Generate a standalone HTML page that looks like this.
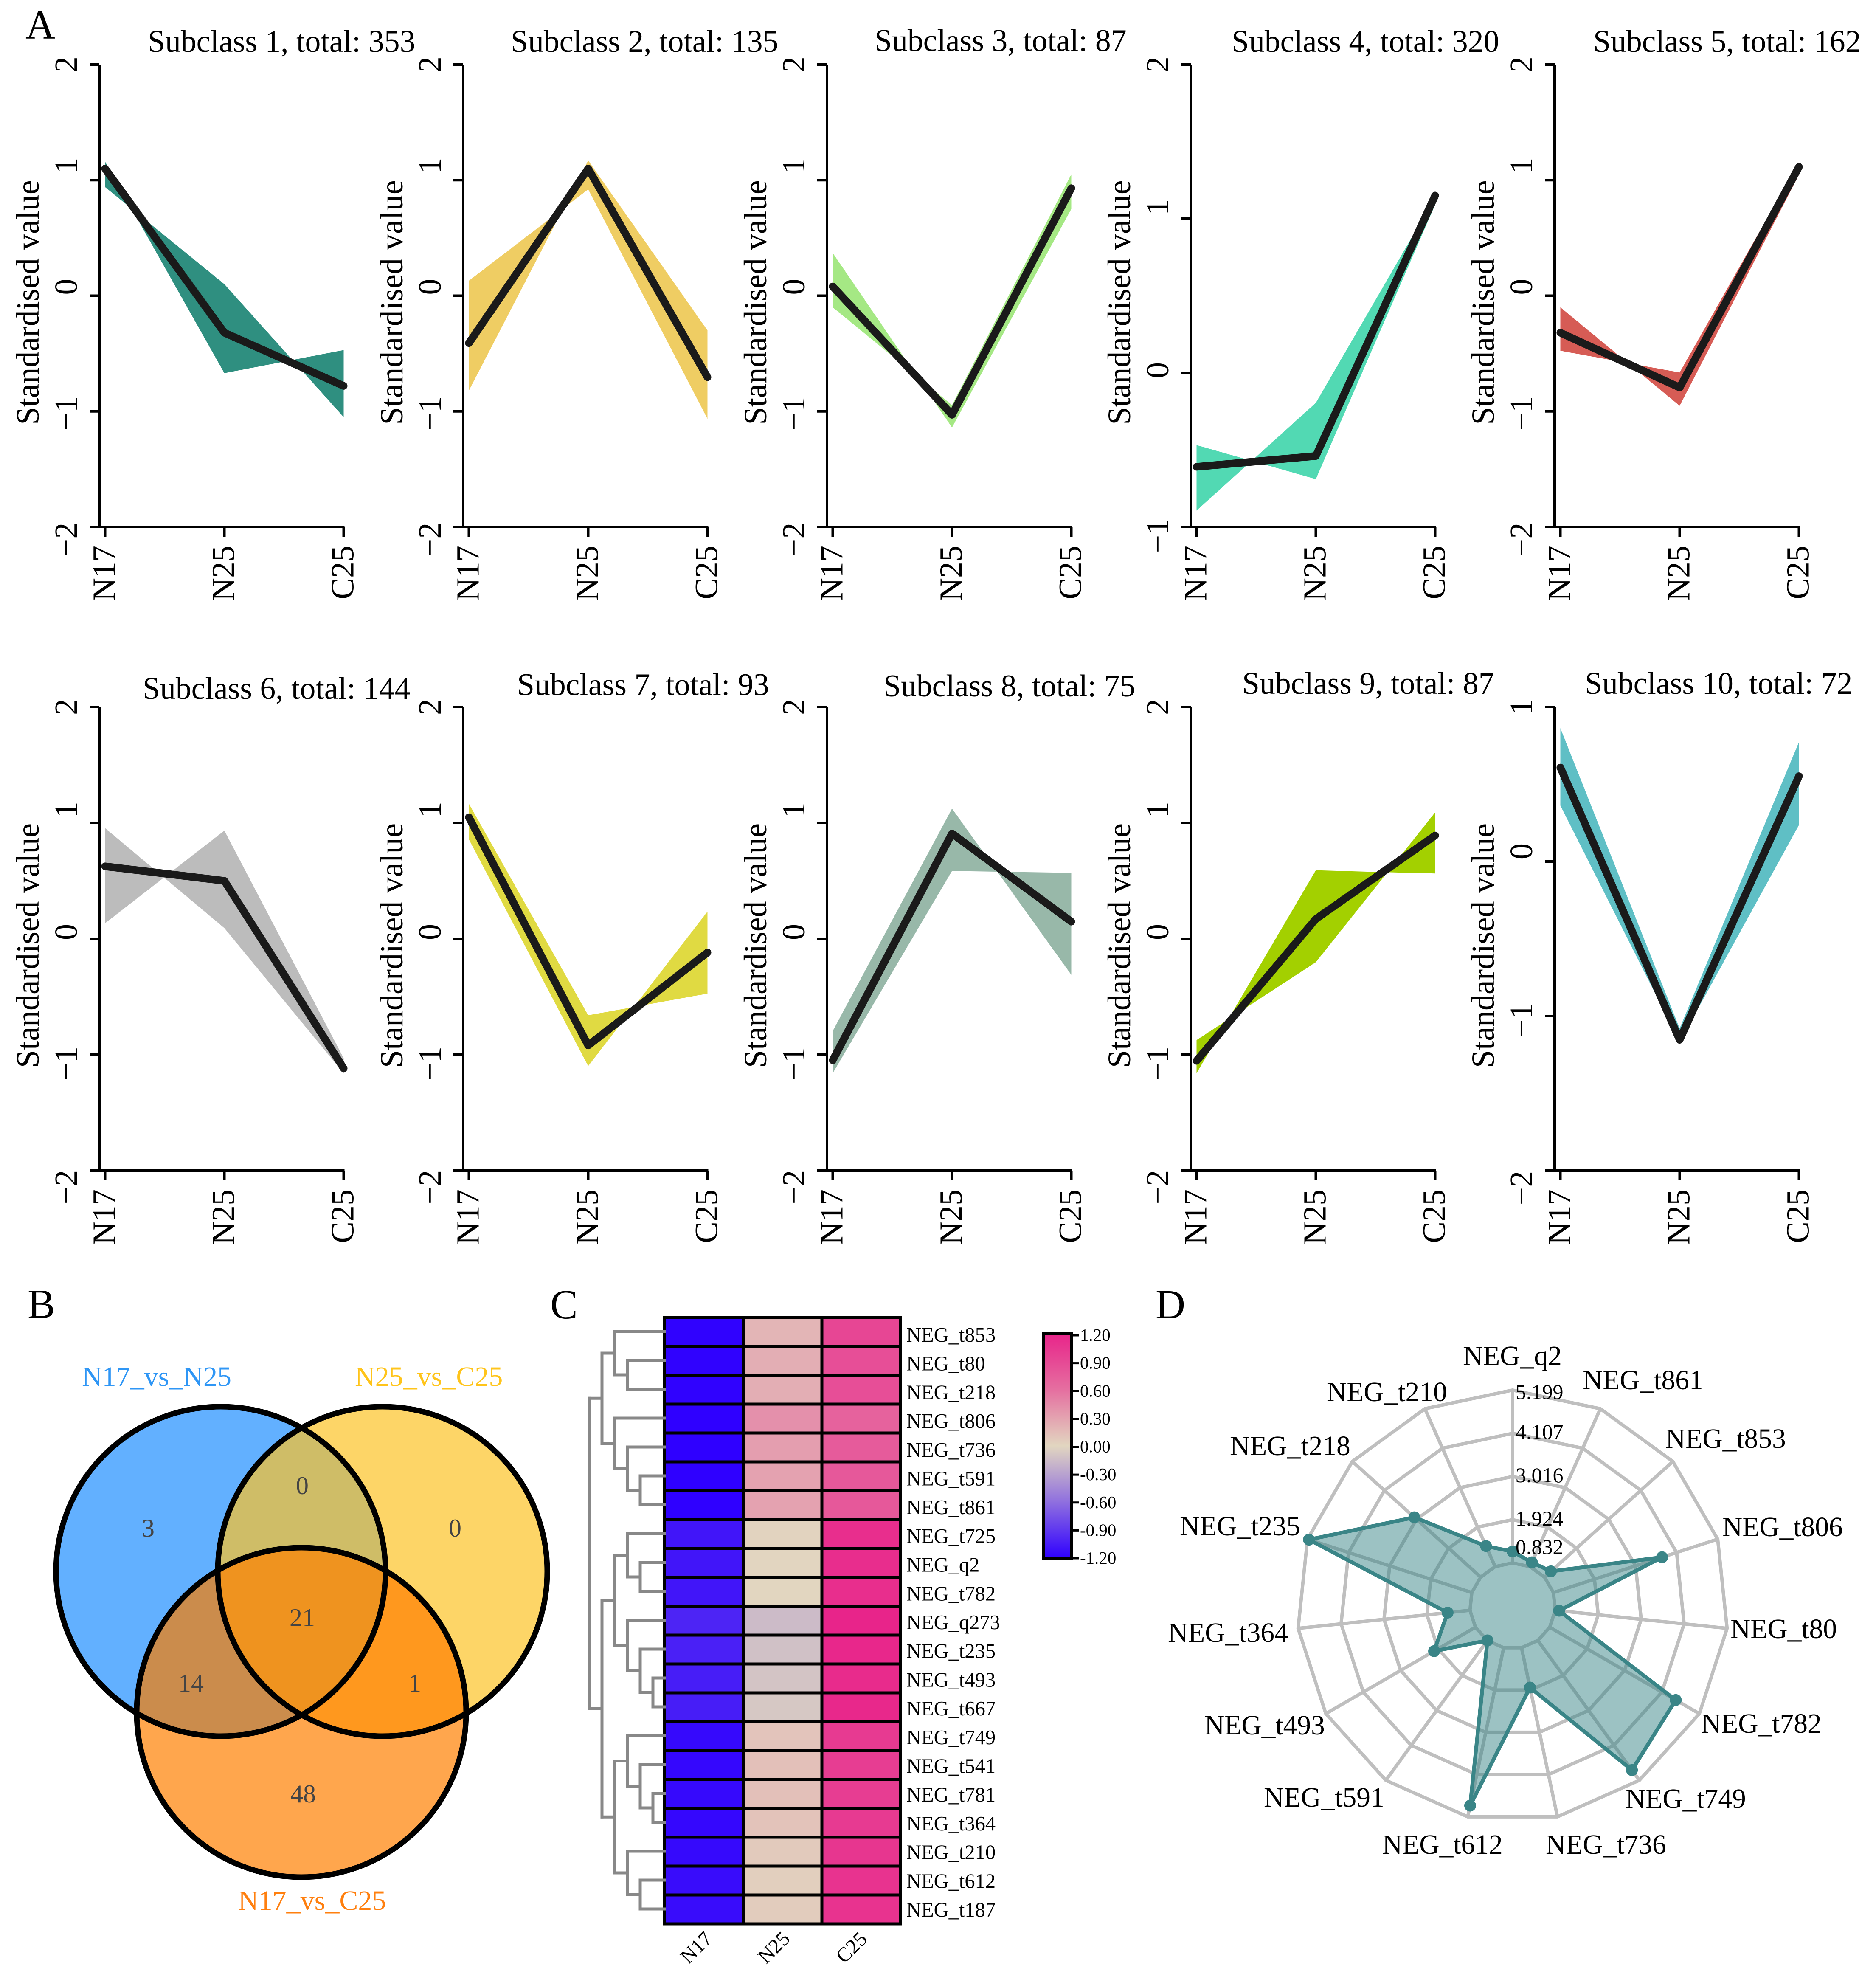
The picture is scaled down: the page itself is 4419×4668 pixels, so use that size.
<!DOCTYPE html>
<html lang="en">
<head>
<meta charset="utf-8">
<title>Subclass trends, Venn diagram, heatmap and radar chart</title>
<style>
html,body{margin:0;padding:0;background:#fff}
svg{display:block}
text{font-family:"Liberation Serif","DejaVu Serif",serif;fill:#000}
</style>
</head>
<body>
<svg id="figure" xmlns="http://www.w3.org/2000/svg" width="4419" height="4668" viewBox="0 0 4419 4668">
<rect x="0" y="0" width="4419" height="4668" fill="#fff"/>
<defs>
<linearGradient id="cbGrad" x1="0" y1="0" x2="0" y2="1">
<stop offset="0" stop-color="#e8248a"/>
<stop offset="0.25" stop-color="#e56fa0"/>
<stop offset="0.5" stop-color="#e2d6c0"/>
<stop offset="0.75" stop-color="#8f6fdf"/>
<stop offset="1" stop-color="#2f00ff"/>
</linearGradient>
<clipPath id="clipL"><circle cx="520" cy="3701" r="388"/></clipPath>
<clipPath id="clipR"><circle cx="901" cy="3701" r="388"/></clipPath>
<clipPath id="clipB"><circle cx="710" cy="4033" r="388"/></clipPath>
</defs>

<text x="60" y="91" font-size="97">A</text>
<text x="65" y="3104" font-size="97">B</text>
<text x="1296" y="3105" font-size="97">C</text>
<text x="2722" y="3105" font-size="97">D</text>

<g font-size="73.7">
<text x="348" y="122">Subclass 1, total: 353</text>
<text x="1203" y="122">Subclass 2, total: 135</text>
<text x="2060" y="120">Subclass 3, total: 87</text>
<text x="2901" y="122">Subclass 4, total: 320</text>
<text x="3753" y="122">Subclass 5, total: 162</text>
<text x="336" y="1646">Subclass 6, total: 144</text>
<text x="1218" y="1637">Subclass 7, total: 93</text>
<text x="2081" y="1640">Subclass 8, total: 75</text>
<text x="2926" y="1634">Subclass 9, total: 87</text>
<text x="3733" y="1634">Subclass 10, total: 72</text>
</g>

<g id="trendPanels"></g>

<g>
<circle cx="520" cy="3701" r="388" fill="#62b0ff"/>
<circle cx="901" cy="3701" r="388" fill="#fdd567"/>
<circle cx="710" cy="4033" r="388" fill="#ffa64d"/>
<circle cx="901" cy="3701" r="388" fill="#cfbd67" clip-path="url(#clipL)"/>
<circle cx="710" cy="4033" r="388" fill="#cb8c4c" clip-path="url(#clipL)"/>
<circle cx="710" cy="4033" r="388" fill="#ff981e" clip-path="url(#clipR)"/>
<g clip-path="url(#clipL)"><circle cx="901" cy="3701" r="388" fill="#ef931f" clip-path="url(#clipB)"/></g>
<g fill="none" stroke="#000" stroke-width="13">
<circle cx="520" cy="3701" r="388"/>
<circle cx="901" cy="3701" r="388"/>
<circle cx="710" cy="4033" r="388"/>
</g>
<g font-size="60" text-anchor="middle" style="fill:#444">
<text style="fill:#444" x="349" y="3619">3</text>
<text style="fill:#444" x="712" y="3519">0</text>
<text style="fill:#444" x="1072" y="3619">0</text>
<text style="fill:#444" x="712" y="3830">21</text>
<text style="fill:#444" x="450" y="3984">14</text>
<text style="fill:#444" x="977" y="3984">1</text>
<text style="fill:#444" x="714" y="4245">48</text>
</g>
<g font-size="66">
<text style="fill:#2f96f5" x="193" y="3264">N17_vs_N25</text>
<text style="fill:#ffc41a" x="836" y="3264">N25_vs_C25</text>
<text style="fill:#ff7f0e" x="561" y="4498">N17_vs_C25</text>
</g>
</g>

<g id="heatmap"></g>
<g id="radar"></g>

<g font-size="50">
<text x="3570" y="3295">5.199</text>
<text x="3570" y="3389">4.107</text>
<text x="3570" y="3491">3.016</text>
<text x="3570" y="3593">1.924</text>
<text x="3570" y="3660">0.832</text>
</g>
<g font-size="65.5">
<text x="3446" y="3215">NEG_q2</text>
<text x="3728" y="3272">NEG_t861</text>
<text x="3923" y="3410">NEG_t853</text>
<text x="4057" y="3618">NEG_t806</text>
<text x="4076" y="3858">NEG_t80</text>
<text x="4007" y="4081">NEG_t782</text>
<text x="3829" y="4258">NEG_t749</text>
<text x="3641" y="4366">NEG_t736</text>
<text x="3256" y="4366">NEG_t612</text>
<text x="2977" y="4255">NEG_t591</text>
<text x="2837" y="4085">NEG_t493</text>
<text x="2751" y="3867">NEG_t364</text>
<text x="2779" y="3616">NEG_t235</text>
<text x="2897" y="3427">NEG_t218</text>
<text x="3125" y="3300">NEG_t210</text>
</g>
</svg>

<script>
// ---- Panel A data ----
const trendCategories = ['N17', 'N25', 'C25'];
const yTicksStandard = [2, 1, 0, -1, -2];
const yTicksSubclass4 = [2, 1, 0, -1];
const yTicksSubclass10 = [1, 0, -1, -2];
const meanSubclass1 = [1.1, -0.32, -0.78];
const meanSubclass2 = [-0.41, 1.1, -0.705];
const meanSubclass3 = [0.08, -1.03, 0.93];
const meanSubclass4 = [-0.61, -0.54, 1.15];
const meanSubclass5 = [-0.32, -0.794, 1.115];
const meanSubclass6 = [0.625, 0.5, -1.118];
const meanSubclass7 = [1.048, -0.92, -0.118];
const meanSubclass8 = [-1.048, 0.908, 0.148];
const meanSubclass9 = [-1.053, 0.171, 0.891];
const meanSubclass10 = [0.608, -1.154, 0.552];
const edgeASubclass1 = [1.16, -0.67, -0.47];
const edgeBSubclass1 = [0.94, 0.1, -1.05];
const edgeASubclass2 = [0.13, 0.92, -1.065];
const edgeBSubclass2 = [-0.82, 1.17, -0.3];
const edgeASubclass3 = [0.37, -1.14, 0.75];
const edgeBSubclass3 = [-0.1, -0.946, 1.05];
const edgeASubclass4 = [-0.469, -0.69, 1.09];
const edgeBSubclass4 = [-0.894, -0.195, 1.14];
const edgeASubclass5 = [-0.1, -0.952, 1.046];
const edgeBSubclass5 = [-0.476, -0.664, 1.156];
const edgeASubclass6 = [0.955, 0.092, -1.16];
const edgeBSubclass6 = [0.134, 0.933, -1.03];
const edgeASubclass7 = [1.165, -0.66, -0.473];
const edgeBSubclass7 = [0.857, -1.098, 0.235];
const edgeASubclass8 = [-0.796, 1.123, -0.311];
const edgeBSubclass8 = [-1.16, 0.585, 0.569];
const edgeASubclass9 = [-0.874, -0.202, 1.09];
const edgeBSubclass9 = [-1.16, 0.591, 0.563];
const edgeASubclass10 = [0.863, -1.08, 0.773];
const edgeBSubclass10 = [0.362, -1.168, 0.236];

// ---- Panel C data ----
const heatGenes = ['NEG_t853','NEG_t80','NEG_t218','NEG_t806','NEG_t736','NEG_t591','NEG_t861','NEG_t725','NEG_q2','NEG_t782','NEG_q273','NEG_t235','NEG_t493','NEG_t667','NEG_t749','NEG_t541','NEG_t781','NEG_t364','NEG_t210','NEG_t612','NEG_t187'];
const heatColumns = ['N17', 'N25', 'C25'];
const heatN17 = [-1.19,-1.19,-1.19,-1.2,-1.2,-1.2,-1.2,-1.08,-1.08,-1.08,-1.0,-1.02,-1.04,-1.04,-1.15,-1.16,-1.15,-1.16,-1.15,-1.13,-1.13];
const heatN25 = [0.22,0.27,0.27,0.47,0.38,0.35,0.35,0.02,0.01,0.0,-0.15,-0.12,-0.1,-0.08,0.12,0.15,0.15,0.13,0.08,0.05,0.07];
const heatC25 = [0.97,0.92,0.92,0.78,0.83,0.85,0.85,1.13,1.14,1.13,1.2,1.18,1.15,1.17,1.05,1.03,1.03,1.05,1.08,1.1,1.1];
const colorbarTicks = [1.2, 0.9, 0.6, 0.3, 0, -0.3, -0.6, -0.9, -1.2];
const dendrogramTree = [[[0,[1,2]],[3,[4,[5,6]]]],[[[7,[8,9]],[10,[11,[12,13]]]],[[14,[15,[16,17]]],[18,[19,20]]]]];

// ---- Panel D data ----
const radarAxes = ['NEG_q2','NEG_t861','NEG_t853','NEG_t806','NEG_t80','NEG_t782','NEG_t749','NEG_t736','NEG_t612','NEG_t591','NEG_t493','NEG_t364','NEG_t235','NEG_t218','NEG_t210'];
const radarValues = [1.12,0.95,1.05,3.72,0.93,4.51,4.88,1.86,4.91,0.83,2.04,1.40,5.16,3.09,1.40];
const radarRings = [0.832, 1.924, 3.016, 4.107, 5.199];

const SVGNS = 'http://www.w3.org/2000/svg';
function make(tag, parent, attrs) {
  const node = document.createElementNS(SVGNS, tag);
  for (const k in attrs) node.setAttribute(k, attrs[k]);
  parent.appendChild(node);
  return node;
}

// ---- Panel A drawing ----
const trendRoot = document.getElementById('trendPanels');
const trendPanels = [
  {n:1, mean:meanSubclass1, a:edgeASubclass1, b:edgeBSubclass1, ticks:yTicksStandard, color:'#2f8f80', col:0, row:0},
  {n:2, mean:meanSubclass2, a:edgeASubclass2, b:edgeBSubclass2, ticks:yTicksStandard, color:'#efcd63', col:1, row:0},
  {n:3, mean:meanSubclass3, a:edgeASubclass3, b:edgeBSubclass3, ticks:yTicksStandard, color:'#a5e884', col:2, row:0},
  {n:4, mean:meanSubclass4, a:edgeASubclass4, b:edgeBSubclass4, ticks:yTicksSubclass4, color:'#52d9b3', col:3, row:0},
  {n:5, mean:meanSubclass5, a:edgeASubclass5, b:edgeBSubclass5, ticks:yTicksStandard, color:'#d65c55', col:4, row:0},
  {n:6, mean:meanSubclass6, a:edgeASubclass6, b:edgeBSubclass6, ticks:yTicksStandard, color:'#bcbcbc', col:0, row:1},
  {n:7, mean:meanSubclass7, a:edgeASubclass7, b:edgeBSubclass7, ticks:yTicksStandard, color:'#e0da42', col:1, row:1},
  {n:8, mean:meanSubclass8, a:edgeASubclass8, b:edgeBSubclass8, ticks:yTicksStandard, color:'#98b8a9', col:2, row:1},
  {n:9, mean:meanSubclass9, a:edgeASubclass9, b:edgeBSubclass9, ticks:yTicksStandard, color:'#a3d000', col:3, row:1},
  {n:10, mean:meanSubclass10, a:edgeASubclass10, b:edgeBSubclass10, ticks:yTicksSubclass10, color:'#5fbfc5', col:4, row:1}
];

function labelNudge(p, v) {
  if (p.n === 4) return {2:0, 1:-27, 0:-6, '-1':21}[v];
  if (p.n === 10) return {1:0, 0:-24, '-1':10, '-2':41}[v];
  if (p.row === 1) return {2:0, 1:-31, 0:-16, '-1':21, '-2':39}[v];
  return {2:0, 1:-34, 0:-21, '-1':5, '-2':30}[v];
}

trendPanels.forEach(function (p) {
  const axisX = 234 + p.col * 857;
  const top = p.row === 0 ? 152 : 1665;
  const bottom = p.row === 0 ? 1241 : 2757;
  const vMax = p.ticks[0];
  const vMin = p.ticks[p.ticks.length - 1];
  const xScale = function (i) { return axisX + 13.5 + i * 281; };
  const yScale = function (v) { return bottom - (v - vMin) / (vMax - vMin) * (bottom - top); };

  const g = make('g', trendRoot, {});
  
  

  const pts = [];
  p.a.forEach(function (v, i) { pts.push(xScale(i) + ',' + yScale(v)); });
  for (let i = p.b.length - 1; i >= 0; i--) pts.push(xScale(i) + ',' + yScale(p.b[i]));
  const band = make('polygon', g, {points: pts.join(' '), fill: p.color});
  
  

  const axisY = make('line', g, {x1: axisX, x2: axisX, y1: top, y2: bottom, stroke: '#000', 'stroke-width': 6});
  
  
  const axisXLine = make('line', g, {x1: axisX, x2: xScale(2) + 2, y1: bottom, y2: bottom, stroke: '#000', 'stroke-width': 6});
  
  

  p.ticks.forEach(function (v) {
    const y = yScale(v);
    const tick = make('line', g, {x1: axisX - 23, x2: axisX, y1: y, y2: y, stroke: '#000', 'stroke-width': 6});
    
    
    const ly = y + labelNudge(p, v);
    const t = make('text', g, {'text-anchor': 'middle', 'font-size': 76, transform: 'translate(' + (axisX - 53) + ',' + ly + ') rotate(-90)'});
    
    
    t.textContent = String(v).replace('-', '\u2212');
  });

  const yTitle = make('text', g, {'text-anchor': 'middle', 'font-size': 76, transform: 'translate(' + (axisX - 143) + ',' + ((top + bottom) / 2 + 16) + ') rotate(-90)'});
  
  
  yTitle.textContent = 'Standardised value';

  trendCategories.forEach(function (c, i) {
    const x = xScale(i);
    const tick = make('line', g, {x1: x, x2: x, y1: bottom, y2: bottom + 23, stroke: '#000', 'stroke-width': 6});
    
    
    const t = make('text', g, {'text-anchor': 'end', 'font-size': 76, transform: 'translate(' + (x + 23) + ',' + (bottom + 44) + ') rotate(-90)'});
    
    
    t.textContent = c;
  });

  const linePts = p.mean.map(function (v, i) { return xScale(i) + ',' + yScale(v); }).join(' ');
  const line = make('polyline', g, {points: linePts, fill: 'none', stroke: '#1a1a1a', 'stroke-width': 18, 'stroke-linecap': 'round', 'stroke-linejoin': 'round'});
  
  
});

// ---- Panel C drawing ----
const heatRoot = document.getElementById('heatmap');
const heatX0 = 1565, heatY0 = 3103, cellW = 185.5, cellH = 68;
const heatSeries = [heatN17, heatN25, heatC25];
function mix(a, b, f) {
  return [0, 1, 2].map(function (i) { return Math.round(a[i] + (b[i] - a[i]) * f); });
}
function heatColor(v) {
  const low = [47, 0, 255], midC = [226, 214, 192], high = [232, 36, 138];
  const rgb = v < 0 ? mix(midC, low, -v / 1.2) : mix(midC, high, v / 1.2);
  return 'rgb(' + rgb.join(',') + ')';
}
heatSeries.forEach(function (series, c) {
  series.forEach(function (v, r) {
    const cell = make('rect', heatRoot, {x: heatX0 + c * cellW, y: heatY0 + r * cellH, width: cellW, height: cellH, fill: heatColor(v), stroke: '#000', 'stroke-width': 7});
    
    
  });
});
heatGenes.forEach(function (name, r) {
  const t = make('text', heatRoot, {x: 2135, y: 3160 + r * 67.7, 'font-size': 48.5});
  
  
  t.textContent = name;
});
heatColumns.forEach(function (name, c) {
  const cx = 1651 + c * 183;
  const t = make('text', heatRoot, {'text-anchor': 'middle', 'font-size': 48, transform: 'translate(' + cx + ',4598) rotate(-45)'});
  
  
  t.textContent = name;
});

// dendrogram
const dendroLevels = [1387.5, 1418, 1447, 1478, 1508, 1538];
const dendroLeafX = 1565;
function rowCentre(i) { return heatY0 + (i + 0.5) * cellH - 1; }
function dendroSeg(x1, y1, x2, y2) {
  const seg = make('line', heatRoot, {x1: x1, y1: y1, x2: x2, y2: y2, stroke: '#888', 'stroke-width': 7, 'stroke-linecap': 'square'});
  
  
}
function dendro(node, depth) {
  if (typeof node === 'number') return rowCentre(node);
  const x = dendroLevels[depth];
  const ys = node.map(function (child) {
    const y = dendro(child, depth + 1);
    const cx = typeof child === 'number' ? dendroLeafX : dendroLevels[depth + 1];
    dendroSeg(x, y, cx, y);
    return y;
  });
  dendroSeg(x, ys[0], x, ys[1]);
  return (ys[0] + ys[1]) / 2;
}
dendro(dendrogramTree, 0);

// colorbar
const cbY = function (v) { return 3407.5 - v * 218.75; };
const cbRect = make('rect', heatRoot, {x: 2458, y: 3141, width: 66, height: 529, fill: 'url(#cbGrad)', stroke: '#000', 'stroke-width': 8});


colorbarTicks.forEach(function (v) {
  const y = cbY(v);
  const tick = make('line', heatRoot, {x1: 2526, x2: 2541, y1: y, y2: y, stroke: '#000', 'stroke-width': 5});
  
  
  const t = make('text', heatRoot, {x: 2544, y: y + 13, 'font-size': 41});
  
  
  t.textContent = v.toFixed(2);
});

// ---- Panel D drawing ----
const radarRoot = document.getElementById('radar');
const radarCx = 3563, radarCy = 3782;
const rScale = function (v) { return 101 + (v - 0.832) / (5.199 - 0.832) * 407; };
const radarPoint = function (i, r) {
  const a = i * 2 * Math.PI / radarAxes.length;
  return [radarCx + r * Math.sin(a), radarCy - r * Math.cos(a)];
};
radarAxes.forEach(function (name, i) {
  const p0 = radarPoint(i, rScale(radarRings[0]));
  const p1 = radarPoint(i, rScale(radarRings[radarRings.length - 1]));
  const spoke = make('line', radarRoot, {x1: p0[0], y1: p0[1], x2: p1[0], y2: p1[1], stroke: '#bfbfbf', 'stroke-width': 8});
  
  
});
radarRings.forEach(function (v) {
  const pts = radarAxes.map(function (n, i) { return radarPoint(i, rScale(v)).join(','); }).join(' ');
  const ring = make('polygon', radarRoot, {points: pts, fill: 'none', stroke: '#bfbfbf', 'stroke-width': 8});
  
  
});
const radarPts = radarValues.map(function (v, i) { return radarPoint(i, rScale(v)).join(','); }).join(' ');
const radarArea = make('polygon', radarRoot, {points: radarPts, fill: '#3a8587', 'fill-opacity': 0.5, stroke: '#3a8587', 'stroke-width': 9, 'stroke-linejoin': 'round'});


radarValues.forEach(function (v, i) {
  const p = radarPoint(i, rScale(v));
  const dot = make('circle', radarRoot, {cx: p[0], cy: p[1], r: 14, fill: '#3a8587'});
  
  
});
</script>
</body>
</html>
